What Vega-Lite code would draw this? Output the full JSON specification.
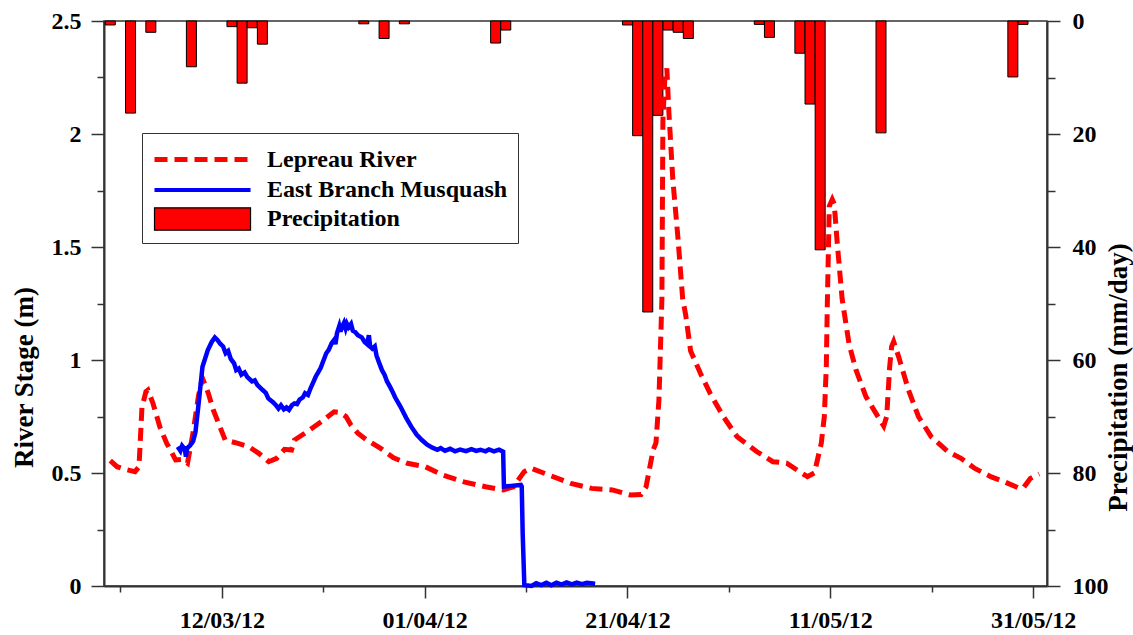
{
  "$schema": "https://vega.github.io/schema/vega-lite/v6.json",
  "width": 943,
  "height": 565,
  "autosize": {"type": "none"},
  "padding": {"left": 104, "top": 21, "right": 86, "bottom": 49},
  "background": "white",
  "config": {
    "view": {"stroke": "#333", "strokeWidth": 1.5},
    "axis": {"labelFont": "Liberation Serif", "labelFontWeight": "bold", "labelFontSize": 24, "labelColor": "black", "titleFont": "Liberation Serif", "titleFontWeight": "bold", "titleFontSize": 27, "titleColor": "black", "grid": false, "domainColor": "#333", "domainWidth": 2, "tickColor": "#333", "tickWidth": 1.5},
    "legend": {"labelFont": "Liberation Serif", "labelFontWeight": "bold", "labelFontSize": 24, "labelColor": "black", "labelLimit": 500, "symbolSize": 784, "labelOffset": 82, "rowPadding": 2, "padding": 10, "strokeColor": "#333", "fillColor": "white", "symbolOpacity": 1, "direction": "vertical"}
  },
  "datasets": {
    "precip": [
      {"date": "2012-03-01", "mm": 0.7}, {"date": "2012-03-03", "mm": 16.3}, {"date": "2012-03-05", "mm": 2.0},
      {"date": "2012-03-09", "mm": 8.1}, {"date": "2012-03-13", "mm": 1.0}, {"date": "2012-03-14", "mm": 11.0},
      {"date": "2012-03-15", "mm": 1.2}, {"date": "2012-03-16", "mm": 4.1}, {"date": "2012-03-26", "mm": 0.5},
      {"date": "2012-03-28", "mm": 3.1}, {"date": "2012-03-30", "mm": 0.5}, {"date": "2012-04-08", "mm": 3.9},
      {"date": "2012-04-09", "mm": 1.6}, {"date": "2012-04-21", "mm": 0.7}, {"date": "2012-04-22", "mm": 20.3},
      {"date": "2012-04-23", "mm": 51.5}, {"date": "2012-04-24", "mm": 16.7}, {"date": "2012-04-25", "mm": 1.6},
      {"date": "2012-04-26", "mm": 2.0}, {"date": "2012-04-27", "mm": 3.1}, {"date": "2012-05-04", "mm": 0.6},
      {"date": "2012-05-05", "mm": 2.9}, {"date": "2012-05-08", "mm": 5.7}, {"date": "2012-05-09", "mm": 14.7},
      {"date": "2012-05-10", "mm": 40.5}, {"date": "2012-05-16", "mm": 19.8}, {"date": "2012-05-29", "mm": 9.9},
      {"date": "2012-05-30", "mm": 0.6}
    ],
    "lep": [
      {"t": "2012-03-01T00:00Z", "v": 0.555}, {"t": "2012-03-01T16:00Z", "v": 0.528}, {"t": "2012-03-02T13:30Z", "v": 0.515},
      {"t": "2012-03-03T10:36Z", "v": 0.506}, {"t": "2012-03-03T20:00Z", "v": 0.528}, {"t": "2012-03-04T03:00Z", "v": 0.79},
      {"t": "2012-03-04T12:22Z", "v": 0.86}, {"t": "2012-03-04T17:04Z", "v": 0.867}, {"t": "2012-03-05T04:47Z", "v": 0.81},
      {"t": "2012-03-05T11:50Z", "v": 0.765}, {"t": "2012-03-05T21:10Z", "v": 0.705}, {"t": "2012-03-06T13:36Z", "v": 0.631},
      {"t": "2012-03-06T18:17Z", "v": 0.616}, {"t": "2012-03-07T10:41Z", "v": 0.558}, {"t": "2012-03-08T03:06Z", "v": 0.56},
      {"t": "2012-03-08T14:48Z", "v": 0.544}, {"t": "2012-03-08T21:51Z", "v": 0.616}, {"t": "2012-03-09T04:53Z", "v": 0.69},
      {"t": "2012-03-09T16:36Z", "v": 0.84}, {"t": "2012-03-10T02:00Z", "v": 0.92}, {"t": "2012-03-10T16:02Z", "v": 0.853},
      {"t": "2012-03-11T03:45Z", "v": 0.779}, {"t": "2012-03-11T13:08Z", "v": 0.735}, {"t": "2012-03-12T07:52Z", "v": 0.646},
      {"t": "2012-03-13T14:20Z", "v": 0.631}, {"t": "2012-03-14T16:08Z", "v": 0.616}, {"t": "2012-03-15T15:34Z", "v": 0.587},
      {"t": "2012-03-16T15:00Z", "v": 0.55}, {"t": "2012-03-17T09:45Z", "v": 0.565}, {"t": "2012-03-18T04:30Z", "v": 0.605},
      {"t": "2012-03-18T20:56Z", "v": 0.602}, {"t": "2012-03-19T03:56Z", "v": 0.646}, {"t": "2012-03-20T10:24Z", "v": 0.683},
      {"t": "2012-03-21T19:13Z", "v": 0.727}, {"t": "2012-03-23T01:41Z", "v": 0.771}, {"t": "2012-03-23T15:45Z", "v": 0.768},
      {"t": "2012-03-24T05:49Z", "v": 0.75}, {"t": "2012-03-24T17:32Z", "v": 0.712}, {"t": "2012-03-25T09:56Z", "v": 0.676},
      {"t": "2012-03-26T07:02Z", "v": 0.646}, {"t": "2012-03-27T15:51Z", "v": 0.609}, {"t": "2012-03-28T22:19Z", "v": 0.567},
      {"t": "2012-03-30T07:07Z", "v": 0.543}, {"t": "2012-04-01T01:19Z", "v": 0.528}, {"t": "2012-04-02T19:30Z", "v": 0.491},
      {"t": "2012-04-04T20:44Z", "v": 0.461}, {"t": "2012-04-07T00:19Z", "v": 0.439}, {"t": "2012-04-08T18:30Z", "v": 0.425},
      {"t": "2012-04-09T17:56Z", "v": 0.439}, {"t": "2012-04-10T19:41Z", "v": 0.506}, {"t": "2012-04-11T12:06Z", "v": 0.521},
      {"t": "2012-04-13T06:19Z", "v": 0.491}, {"t": "2012-04-15T09:49Z", "v": 0.454}, {"t": "2012-04-17T11:04Z", "v": 0.432},
      {"t": "2012-04-19T12:19Z", "v": 0.425}, {"t": "2012-04-21T06:30Z", "v": 0.403}, {"t": "2012-04-22T08:19Z", "v": 0.405},
      {"t": "2012-04-22T20:00Z", "v": 0.439}, {"t": "2012-04-23T05:20Z", "v": 0.53}, {"t": "2012-04-23T12:23Z", "v": 0.6},
      {"t": "2012-04-23T19:25Z", "v": 0.633}, {"t": "2012-04-24T02:26Z", "v": 0.823}, {"t": "2012-04-24T07:08Z", "v": 1.12},
      {"t": "2012-04-24T09:28Z", "v": 1.27}, {"t": "2012-04-24T11:49Z", "v": 2.06}, {"t": "2012-04-24T16:30Z", "v": 2.25},
      {"t": "2012-04-24T21:11Z", "v": 2.29}, {"t": "2012-04-25T01:53Z", "v": 2.1}, {"t": "2012-04-25T11:15Z", "v": 1.8},
      {"t": "2012-04-25T23:00Z", "v": 1.55}, {"t": "2012-04-26T10:42Z", "v": 1.27}, {"t": "2012-04-26T17:45Z", "v": 1.2},
      {"t": "2012-04-27T05:26Z", "v": 1.04}, {"t": "2012-04-28T04:52Z", "v": 0.94}, {"t": "2012-04-29T04:19Z", "v": 0.85},
      {"t": "2012-04-30T10:47Z", "v": 0.75}, {"t": "2012-05-01T19:37Z", "v": 0.66}, {"t": "2012-05-03T18:30Z", "v": 0.594},
      {"t": "2012-05-05T08:00Z", "v": 0.55}, {"t": "2012-05-06T16:49Z", "v": 0.544}, {"t": "2012-05-07T23:18Z", "v": 0.506},
      {"t": "2012-05-08T18:00Z", "v": 0.484}, {"t": "2012-05-09T10:24Z", "v": 0.5}, {"t": "2012-05-10T02:48Z", "v": 0.633},
      {"t": "2012-05-10T09:51Z", "v": 0.75}, {"t": "2012-05-10T14:32Z", "v": 0.97}, {"t": "2012-05-10T16:53Z", "v": 1.24},
      {"t": "2012-05-10T21:34Z", "v": 1.68}, {"t": "2012-05-11T04:38Z", "v": 1.71}, {"t": "2012-05-11T09:19Z", "v": 1.69},
      {"t": "2012-05-11T16:19Z", "v": 1.52}, {"t": "2012-05-12T04:00Z", "v": 1.27}, {"t": "2012-05-12T20:26Z", "v": 1.07},
      {"t": "2012-05-13T12:50Z", "v": 0.956}, {"t": "2012-05-14T12:19Z", "v": 0.838}, {"t": "2012-05-15T11:45Z", "v": 0.765},
      {"t": "2012-05-16T06:30Z", "v": 0.708}, {"t": "2012-05-16T13:30Z", "v": 0.75}, {"t": "2012-05-16T20:30Z", "v": 0.97},
      {"t": "2012-05-17T01:13Z", "v": 1.06}, {"t": "2012-05-17T05:56Z", "v": 1.081}, {"t": "2012-05-17T17:38Z", "v": 1.015},
      {"t": "2012-05-18T17:04Z", "v": 0.867}, {"t": "2012-05-19T16:30Z", "v": 0.75}, {"t": "2012-05-20T23:00Z", "v": 0.66},
      {"t": "2012-05-22T14:49Z", "v": 0.594}, {"t": "2012-05-23T21:19Z", "v": 0.565}, {"t": "2012-05-25T06:06Z", "v": 0.52},
      {"t": "2012-05-26T19:37Z", "v": 0.484}, {"t": "2012-05-28T04:24Z", "v": 0.461}, {"t": "2012-05-29T15:34Z", "v": 0.432},
      {"t": "2012-05-30T01:00Z", "v": 0.434}, {"t": "2012-05-30T17:19Z", "v": 0.476}, {"t": "2012-05-31T14:26Z", "v": 0.496}
    ],
    "musq": [
      {"t": "2012-03-07T15:36Z", "v": 0.616}, {"t": "2012-03-07T22:00Z", "v": 0.598}, {"t": "2012-03-08T02:00Z", "v": 0.62},
      {"t": "2012-03-08T08:30Z", "v": 0.605}, {"t": "2012-03-08T11:00Z", "v": 0.572}, {"t": "2012-03-08T14:00Z", "v": 0.61},
      {"t": "2012-03-08T20:54Z", "v": 0.622}, {"t": "2012-03-09T04:00Z", "v": 0.64}, {"t": "2012-03-09T09:34Z", "v": 0.68},
      {"t": "2012-03-09T18:00Z", "v": 0.823}, {"t": "2012-03-10T02:13Z", "v": 0.97}, {"t": "2012-03-10T14:51Z", "v": 1.044},
      {"t": "2012-03-11T00:00Z", "v": 1.08}, {"t": "2012-03-11T07:30Z", "v": 1.1}, {"t": "2012-03-11T14:00Z", "v": 1.088},
      {"t": "2012-03-11T20:11Z", "v": 1.072}, {"t": "2012-03-12T03:00Z", "v": 1.06}, {"t": "2012-03-12T09:00Z", "v": 1.03},
      {"t": "2012-03-12T15:00Z", "v": 1.04}, {"t": "2012-03-12T21:14Z", "v": 1.005}, {"t": "2012-03-13T05:00Z", "v": 0.985},
      {"t": "2012-03-13T10:00Z", "v": 0.955}, {"t": "2012-03-13T16:00Z", "v": 0.962}, {"t": "2012-03-13T22:19Z", "v": 0.935},
      {"t": "2012-03-14T06:00Z", "v": 0.945}, {"t": "2012-03-14T12:00Z", "v": 0.925}, {"t": "2012-03-14T23:23Z", "v": 0.905},
      {"t": "2012-03-15T06:00Z", "v": 0.91}, {"t": "2012-03-15T12:00Z", "v": 0.89}, {"t": "2012-03-16T00:42Z", "v": 0.867},
      {"t": "2012-03-16T08:00Z", "v": 0.855}, {"t": "2012-03-16T14:00Z", "v": 0.83}, {"t": "2012-03-17T01:47Z", "v": 0.812},
      {"t": "2012-03-17T08:00Z", "v": 0.8}, {"t": "2012-03-17T14:00Z", "v": 0.785}, {"t": "2012-03-17T20:00Z", "v": 0.8},
      {"t": "2012-03-18T02:52Z", "v": 0.782}, {"t": "2012-03-18T09:00Z", "v": 0.79}, {"t": "2012-03-18T15:00Z", "v": 0.78},
      {"t": "2012-03-18T22:00Z", "v": 0.8}, {"t": "2012-03-19T03:56Z", "v": 0.808}, {"t": "2012-03-19T10:00Z", "v": 0.805},
      {"t": "2012-03-19T16:00Z", "v": 0.825}, {"t": "2012-03-20T00:00Z", "v": 0.835}, {"t": "2012-03-20T05:00Z", "v": 0.853},
      {"t": "2012-03-20T12:00Z", "v": 0.845}, {"t": "2012-03-20T18:00Z", "v": 0.875}, {"t": "2012-03-21T00:00Z", "v": 0.9},
      {"t": "2012-03-21T06:05Z", "v": 0.926}, {"t": "2012-03-21T12:00Z", "v": 0.945}, {"t": "2012-03-21T18:00Z", "v": 0.965},
      {"t": "2012-03-22T01:00Z", "v": 1.0}, {"t": "2012-03-22T07:10Z", "v": 1.03}, {"t": "2012-03-22T13:00Z", "v": 1.045},
      {"t": "2012-03-22T20:00Z", "v": 1.075}, {"t": "2012-03-23T02:00Z", "v": 1.09}, {"t": "2012-03-23T05:00Z", "v": 1.07},
      {"t": "2012-03-23T08:29Z", "v": 1.118}, {"t": "2012-03-23T14:00Z", "v": 1.15}, {"t": "2012-03-23T17:00Z", "v": 1.125},
      {"t": "2012-03-23T20:00Z", "v": 1.145}, {"t": "2012-03-24T01:08Z", "v": 1.165}, {"t": "2012-03-24T05:00Z", "v": 1.14},
      {"t": "2012-03-24T08:00Z", "v": 1.16}, {"t": "2012-03-24T12:00Z", "v": 1.145}, {"t": "2012-03-24T17:46Z", "v": 1.16},
      {"t": "2012-03-24T22:00Z", "v": 1.13}, {"t": "2012-03-25T03:00Z", "v": 1.125}, {"t": "2012-03-25T10:00Z", "v": 1.11},
      {"t": "2012-03-25T19:05Z", "v": 1.1}, {"t": "2012-03-26T02:00Z", "v": 1.08}, {"t": "2012-03-26T08:00Z", "v": 1.07},
      {"t": "2012-03-26T12:00Z", "v": 1.11}, {"t": "2012-03-26T15:00Z", "v": 1.06}, {"t": "2012-03-26T20:10Z", "v": 1.05},
      {"t": "2012-03-27T02:00Z", "v": 1.06}, {"t": "2012-03-27T06:00Z", "v": 1.02}, {"t": "2012-03-27T12:49Z", "v": 0.985},
      {"t": "2012-03-27T19:00Z", "v": 0.955}, {"t": "2012-03-28T01:00Z", "v": 0.935}, {"t": "2012-03-28T07:00Z", "v": 0.905},
      {"t": "2012-03-28T13:53Z", "v": 0.882}, {"t": "2012-03-28T20:00Z", "v": 0.86}, {"t": "2012-03-29T02:00Z", "v": 0.835},
      {"t": "2012-03-29T14:58Z", "v": 0.793}, {"t": "2012-03-30T04:00Z", "v": 0.745}, {"t": "2012-03-30T16:17Z", "v": 0.705},
      {"t": "2012-03-31T05:00Z", "v": 0.67}, {"t": "2012-03-31T17:21Z", "v": 0.646}, {"t": "2012-04-01T06:00Z", "v": 0.625},
      {"t": "2012-04-01T18:26Z", "v": 0.612}, {"t": "2012-04-02T06:00Z", "v": 0.603}, {"t": "2012-04-02T14:00Z", "v": 0.61},
      {"t": "2012-04-03T00:00Z", "v": 0.598}, {"t": "2012-04-03T12:08Z", "v": 0.607}, {"t": "2012-04-04T00:00Z", "v": 0.596},
      {"t": "2012-04-04T12:00Z", "v": 0.604}, {"t": "2012-04-05T02:00Z", "v": 0.597}, {"t": "2012-04-05T14:32Z", "v": 0.606},
      {"t": "2012-04-06T02:00Z", "v": 0.598}, {"t": "2012-04-06T12:00Z", "v": 0.603}, {"t": "2012-04-07T00:00Z", "v": 0.596},
      {"t": "2012-04-07T08:16Z", "v": 0.604}, {"t": "2012-04-07T20:00Z", "v": 0.596}, {"t": "2012-04-08T08:00Z", "v": 0.603},
      {"t": "2012-04-08T17:46Z", "v": 0.594}, {"t": "2012-04-08T19:36Z", "v": 0.44}, {"t": "2012-04-09T12:00Z", "v": 0.443},
      {"t": "2012-04-10T11:42Z", "v": 0.447}, {"t": "2012-04-10T13:48Z", "v": 0.44}, {"t": "2012-04-10T16:00Z", "v": 0.233},
      {"t": "2012-04-10T19:55Z", "v": 0.004}, {"t": "2012-04-11T12:49Z", "v": 0.0}, {"t": "2012-04-12T00:00Z", "v": 0.012},
      {"t": "2012-04-12T12:00Z", "v": 0.004}, {"t": "2012-04-13T00:00Z", "v": 0.014}, {"t": "2012-04-13T12:00Z", "v": 0.003},
      {"t": "2012-04-14T00:00Z", "v": 0.015}, {"t": "2012-04-14T12:00Z", "v": 0.006}, {"t": "2012-04-15T00:00Z", "v": 0.016},
      {"t": "2012-04-15T12:00Z", "v": 0.007}, {"t": "2012-04-16T00:00Z", "v": 0.015}, {"t": "2012-04-16T12:00Z", "v": 0.008},
      {"t": "2012-04-17T00:00Z", "v": 0.014}, {"t": "2012-04-17T19:28Z", "v": 0.01}
    ]
  },
  "layer": [
    {
      "data": {"name": "precip"},
      "layer": [
        {
          "mark": {"type": "bar", "fill": "#ff0000", "stroke": "black", "strokeWidth": 1, "size": 10},
          "encoding": {
            "x": {"field": "date", "type": "temporal", "scale": {"type": "utc", "domain": [{"year": 2012, "month": 2, "date": 29, "hours": 21, "utc": true}, {"year": 2012, "month": 5, "date": 31, "hours": 21, "utc": true}]},
              "axis": {"orient": "bottom", "values": [{"year": 2012, "month": 3, "date": 2, "utc": true}, {"year": 2012, "month": 3, "date": 22, "utc": true}, {"year": 2012, "month": 4, "date": 11, "utc": true}, {"year": 2012, "month": 5, "date": 1, "utc": true}, {"year": 2012, "month": 5, "date": 21, "utc": true}], "labels": false, "tickSize": 6, "domain": false, "title": null}},
            "y": {"field": "mm", "type": "quantitative", "scale": {"domain": [0, 100], "reverse": true, "nice": false},
              "axis": {"orient": "right", "values": [0, 20, 40, 60, 80, 100], "tickSize": 13, "labelPadding": 12, "title": "Precipitation (mm/day)", "titleX": 79, "titleY": 356, "titleAngle": 270, "titleBaseline": "alphabetic", "titleAlign": "center"}}
          }
        },
        {
          "mark": {"type": "point", "opacity": 0},
          "encoding": {
            "x": {"field": "date", "type": "temporal"},
            "y": {"field": "mm", "type": "quantitative", "axis": {"orient": "right", "values": [10, 30, 50, 70, 90], "tickSize": 8, "labels": false, "domain": false, "title": null}}
          }
        }
      ],
      "resolve": {"axis": {"y": "independent"}}
    },
    {
      "layer": [
        {
          "data": {"name": "lep"},
          "mark": {"type": "line", "color": "#ff0000", "strokeWidth": 5, "strokeDash": [13, 7]},
          "encoding": {
            "x": {"field": "t", "type": "temporal", "scale": {"type": "utc", "domain": [{"year": 2012, "month": 2, "date": 29, "hours": 21, "utc": true}, {"year": 2012, "month": 5, "date": 31, "hours": 21, "utc": true}]},
              "axis": {"orient": "bottom", "values": [{"year": 2012, "month": 3, "date": 12, "utc": true}, {"year": 2012, "month": 4, "date": 1, "utc": true}, {"year": 2012, "month": 4, "date": 21, "utc": true}, {"year": 2012, "month": 5, "date": 11, "utc": true}, {"year": 2012, "month": 5, "date": 31, "utc": true}], "labelExpr": "utcFormat(datum.value, '%d/%m/%y')", "tickSize": 12, "labelPadding": 10, "title": null}},
            "y": {"field": "v", "type": "quantitative", "scale": {"domain": [0, 2.5], "nice": false},
              "axis": {"orient": "left", "values": [0, 0.5, 1, 1.5, 2, 2.5], "format": "~g", "tickSize": 13, "labelPadding": 10, "title": "River Stage (m)", "titleX": -72, "titleY": 356, "titleAngle": 270, "titleBaseline": "alphabetic", "titleAlign": "center"}}
          }
        },
        {
          "data": {"name": "musq"},
          "mark": {"type": "line", "color": "#0000ff", "strokeWidth": 4.5},
          "encoding": {
            "x": {"field": "t", "type": "temporal"},
            "y": {"field": "v", "type": "quantitative", "axis": {"orient": "left", "values": [0.25, 0.75, 1.25, 1.75, 2.25], "tickSize": 7, "labels": false, "domain": false, "title": null}}
          }
        }
      ],
      "resolve": {"axis": {"y": "independent"}}
    },
    {
      "data": {"values": [{"series": "Lepreau River"}, {"series": "East Branch Musquash"}, {"series": "Precipitation"}]},
      "mark": {"type": "point", "filled": true, "fill": "#ff0000", "opacity": 0},
      "encoding": {
        "shape": {"field": "series", "type": "nominal", "scale": {"domain": ["Lepreau River", "East Branch Musquash", "Precipitation"], "range": ["M-1,0H5.86", "M-1,0H5.86", "M-1,-0.8H5.86V0.8H-1Z"]},
          "legend": {"title": null, "orient": "none", "legendX": 38, "legendY": 112}},
        "stroke": {"field": "series", "type": "nominal", "scale": {"domain": ["Lepreau River", "East Branch Musquash", "Precipitation"], "range": ["#ff0000", "#0000ff", "#000000"]},
          "legend": {"title": null, "orient": "none", "legendX": 38, "legendY": 112}},
        "strokeDash": {"field": "series", "type": "nominal", "scale": {"domain": ["Lepreau River", "East Branch Musquash", "Precipitation"], "range": [[13, 7], [1, 0], [1, 0]]},
          "legend": {"title": null, "orient": "none", "legendX": 38, "legendY": 112}},
        "strokeWidth": {"field": "series", "type": "nominal", "scale": {"type": "ordinal", "domain": ["Lepreau River", "East Branch Musquash", "Precipitation"], "range": [5, 4, 1.2]},
          "legend": {"title": null, "orient": "none", "legendX": 38, "legendY": 112}}
      }
    }
  ],
  "resolve": {"scale": {"y": "independent"}, "axis": {"x": "independent", "y": "independent"}}
}
